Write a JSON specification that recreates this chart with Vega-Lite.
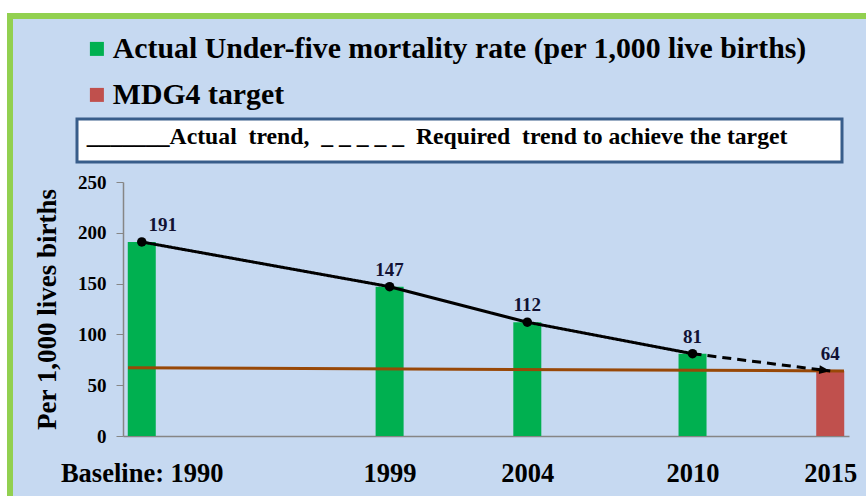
{
  "$schema": "https://vega.github.io/schema/vega-lite/v6.json",
  "width": 862,
  "height": 486,
  "autosize": {"type": "none"},
  "padding": {"left": 10, "top": 16, "right": -6, "bottom": -6},
  "background": "white",
  "view": {"fill": "#C6D9F1", "stroke": "#92D050", "strokeWidth": 6},
  "datasets": {
    "bars": [
      {"year": 1990, "value": 191, "series": "Actual Under-five mortality rate (per 1,000 live births)"},
      {"year": 1999, "value": 147, "series": "Actual Under-five mortality rate (per 1,000 live births)"},
      {"year": 2004, "value": 112, "series": "Actual Under-five mortality rate (per 1,000 live births)"},
      {"year": 2010, "value": 81, "series": "Actual Under-five mortality rate (per 1,000 live births)"},
      {"year": 2015, "value": 64, "series": "MDG4 target"}
    ],
    "trend": [
      {"year": 1990, "value": 191, "trend": "Actual"},
      {"year": 1999, "value": 147, "trend": "Actual"},
      {"year": 2004, "value": 112, "trend": "Actual"},
      {"year": 2010, "value": 81, "trend": "Actual"},
      {"year": 2010, "value": 81, "trend": "Required"},
      {"year": 2015, "value": 64, "trend": "Required"}
    ],
    "target": [
      {"year": 1989.5, "value": 67.2},
      {"year": 2015.5, "value": 64}
    ]
  },
  "encoding": {
    "x": {
      "field": "year", "type": "quantitative",
      "scale": {"domain": [1989.5, 2015.5], "range": [113, 839], "nice": false, "zero": false},
      "axis": {
        "values": [1990, 1999, 2004, 2010, 2015],
        "labelExpr": "datum.value == 1990 ? 'Baseline: 1990' : datum.label",
        "format": "d", "title": null, "grid": false, "ticks": false,
        "domainColor": "#868686", "domainWidth": 1.5,
        "labelFont": "Liberation Serif", "labelFontSize": 26.5, "labelFontWeight": "bold",
        "labelColor": "black", "labelPadding": 24, "labelOverlap": false, "labelFlush": false,
        "offset": -66
      }
    },
    "y": {
      "field": "value", "type": "quantitative",
      "scale": {"domain": [0, 250], "range": [420, 166], "nice": false},
      "axis": {
        "values": [0, 50, 100, 150, 200, 250],
        "title": "Per 1,000 lives births", "grid": false,
        "domainColor": "#868686", "domainWidth": 1.5, "tickColor": "#868686", "tickSize": 7,
        "labelFont": "Liberation Serif", "labelFontSize": 19, "labelFontWeight": "bold",
        "labelColor": "black", "labelPadding": 10, "labelOverlap": false, "labelFlush": false,
        "titleFont": "Liberation Serif", "titleFontSize": 27, "titleFontWeight": "bold",
        "titleColor": "black", "titlePadding": 16,
        "offset": -113
      }
    }
  },
  "layer": [
    {
      "data": {"values": [{}]},
      "mark": {"type": "rect", "fill": "white"},
      "encoding": {
        "x": {"datum": 1989.5, "type": "quantitative"},
        "x2": {"datum": 2015.5},
        "y": {"datum": 0, "type": "quantitative"},
        "y2": {"datum": 250}
      }
    },
    {
      "data": {"name": "bars"},
      "mark": {"type": "bar", "width": 28},
      "encoding": {
        "color": {
          "field": "series", "type": "nominal",
          "scale": {"domain": ["Actual Under-five mortality rate (per 1,000 live births)", "MDG4 target"], "range": ["#00B050", "#C0504D"]},
          "legend": {
            "orient": "none", "legendX": 72, "legendY": 18, "title": null, "direction": "vertical",
            "labelFont": "Liberation Serif", "labelFontSize": 29.8, "labelFontWeight": "bold", "labelColor": "black",
            "labelLimit": 0, "symbolType": "square", "symbolSize": 196, "symbolStrokeWidth": 0,
            "labelOffset": 1, "rowPadding": 15
          }
        }
      }
    },
    {
      "data": {"name": "target"},
      "mark": {"type": "line", "color": "#984807", "strokeWidth": 3}
    },
    {
      "data": {"name": "trend"},
      "mark": {"type": "line", "color": "black", "strokeWidth": 3},
      "encoding": {
        "strokeDash": {
          "field": "trend", "type": "nominal",
          "scale": {"domain": ["Actual", "Required"], "range": [[1, 0], [9, 6]]},
          "legend": null
        }
      }
    },
    {
      "data": {"name": "trend"},
      "transform": [{"filter": "datum.trend == 'Actual'"}],
      "mark": {"type": "circle", "size": 90, "opacity": 1},
      "encoding": {
        "fill": {
          "datum": "_______Actual\u00a0 trend,\u00a0 _ _ _ _ _\u00a0 Required\u00a0 trend to achieve the target\u00a0\u00a0\u00a0\u00a0\u00a0\u00a0\u00a0\u200b",
          "type": "nominal",
          "scale": {"range": ["black"]},
          "legend": {
            "orient": "none", "legendX": 67, "legendY": 103, "title": null,
            "fillColor": "white", "strokeColor": "#385D8A", "padding": 13,
            "symbolSize": 0, "symbolOpacity": 0, "labelOffset": -27,
            "labelFont": "Liberation Serif", "labelFontSize": 23.7, "labelFontWeight": "bold",
            "labelColor": "black", "labelLimit": 0, "labelBaseline": "alphabetic",
            "encode": {"legend": {"update": {"strokeWidth": {"value": 3}}}}
          }
        }
      }
    },
    {
      "data": {"name": "trend"},
      "transform": [{"filter": "datum.year == 2015"}],
      "mark": {"type": "point", "shape": "M0,0L-2,-0.8L-2,0.8Z", "filled": true, "color": "black", "size": 121, "angle": 6.5, "opacity": 1}
    },
    {
      "data": {"name": "bars"},
      "transform": [{"filter": "datum.year != 1990"}],
      "mark": {"type": "text", "dy": -17, "font": "Liberation Serif", "fontSize": 19, "fontWeight": "bold", "color": "#111133"},
      "encoding": {
        "text": {"field": "value", "type": "quantitative"}
      }
    },
    {
      "data": {"name": "bars"},
      "transform": [{"filter": "datum.year == 1990"}],
      "mark": {"type": "text", "dx": 21, "dy": -17, "font": "Liberation Serif", "fontSize": 19, "fontWeight": "bold", "color": "#111133"},
      "encoding": {
        "text": {"field": "value", "type": "quantitative"}
      }
    }
  ]
}
